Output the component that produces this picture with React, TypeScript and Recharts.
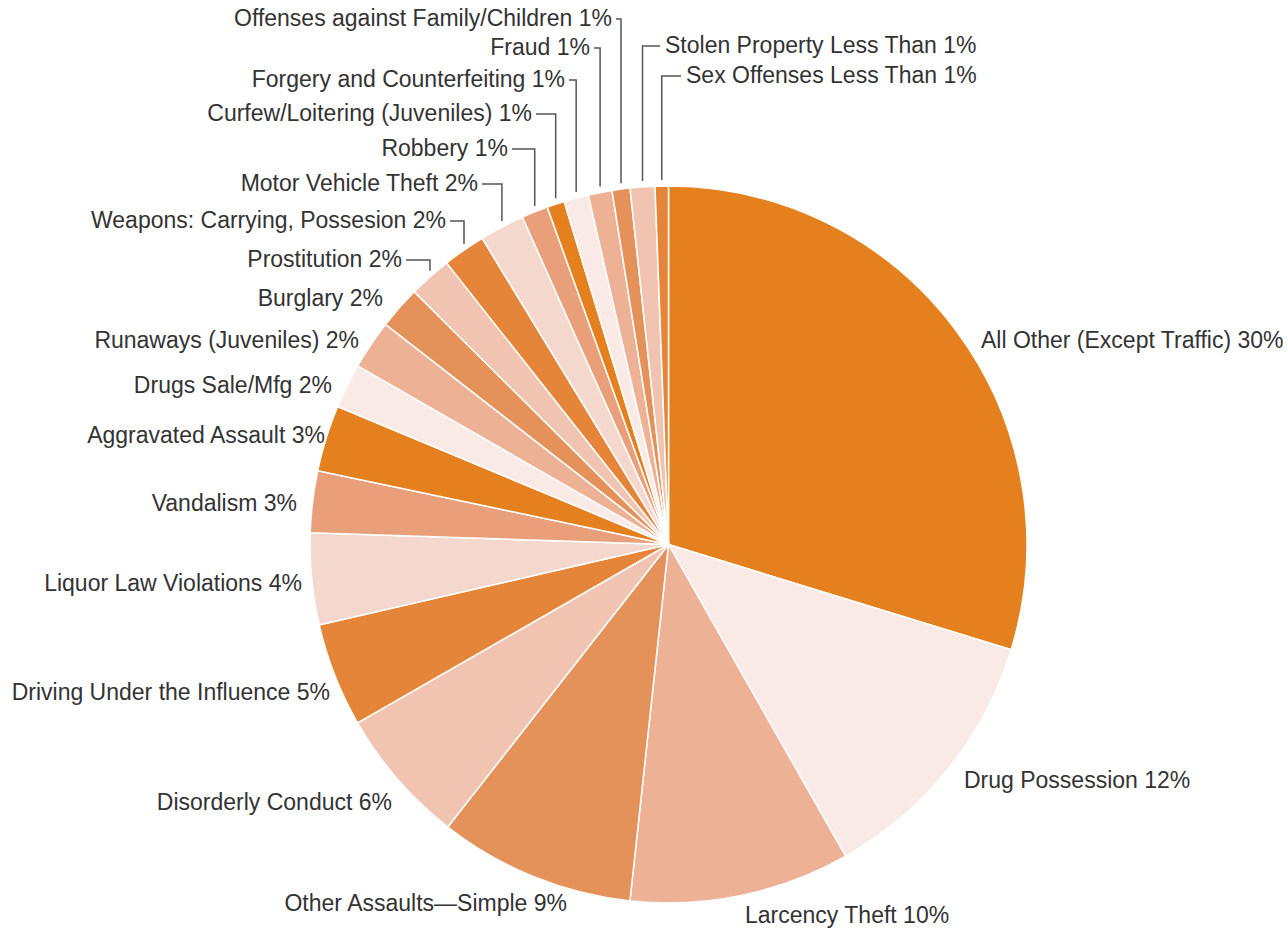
import { PieChart, Pie, Cell } from "recharts";

const categories = [
  "All Other (Except Traffic)",
  "Drug Possession",
  "Larcency Theft",
  "Other Assaults\u2014Simple",
  "Disorderly Conduct",
  "Driving Under the Influence",
  "Liquor Law Violations",
  "Vandalism",
  "Aggravated Assault",
  "Drugs Sale/Mfg",
  "Runaways (Juveniles)",
  "Burglary",
  "Prostitution",
  "Weapons: Carrying, Possesion",
  "Motor Vehicle Theft",
  "Robbery",
  "Curfew/Loitering (Juveniles)",
  "Forgery and Counterfeiting",
  "Fraud",
  "Offenses against Family/Children",
  "Stolen Property",
  "Sex Offenses",
];

// share of arrests
const values = [
  29.74, 12.03, 9.94, 8.84, 6.15, 4.69, 4.12, 2.78, 2.99, 2.01, 2.22, 1.93,
  1.93, 1.92, 2.02, 1.19, 0.79, 1.11, 1.07, 0.81, 1.11, 0.6,
];

const valueLabels = [
  "30%", "12%", "10%", "9%", "6%", "5%", "4%", "3%", "3%", "2%", "2%", "2%",
  "2%", "2%", "2%", "1%", "1%", "1%", "1%", "1%", "Less Than 1%", "Less Than 1%",
];

const palette = [
  "#E5801F", "#F9EAE5", "#EDB296", "#E5925A",
  "#F0C4B0", "#E5853A", "#F5D8CD", "#E9A07A",
];

const data = categories.map((name, i) => ({
  name,
  value: values[i],
  tag: valueLabels[i],
}));

// label placement relative to the pie centre: [dx, baseline dy, anchor, leader]
type Spot = [number, number, "start" | "end", boolean];
const spots: Spot[] = [
  [312.5, -196.5, "start", false],
  [295.5, 243.5, "start", false],
  [76.5, 378.5, "start", false],
  [-101.5, 366.5, "end", false],
  [-276.5, 265.5, "end", false],
  [-338.5, 155.5, "end", false],
  [-366.5, 46.5, "end", false],
  [-371.5, -33.5, "end", false],
  [-343.5, -101.5, "end", false],
  [-336.5, -151.5, "end", false],
  [-309.5, -196.5, "end", false],
  [-285.5, -238.5, "end", false],
  [-266.5, -277.5, "end", true],
  [-222.5, -316.5, "end", true],
  [-190.5, -353.5, "end", true],
  [-160.5, -388.5, "end", true],
  [-136.5, -423.5, "end", true],
  [-103.5, -457.5, "end", true],
  [-78.5, -489.5, "end", true],
  [-56.5, -518.5, "end", true],
  [-3.5, -491.5, "start", true],
  [17.5, -461.5, "start", true],
];

const RAD = Math.PI / 180;

const renderLabel = (props: any) => {
  const { cx, cy, midAngle, outerRadius, index, name, payload } = props;
  const [dx, dy, anchor, leader] = spots[index];
  const tx = cx + dx;
  const ty = cy + dy;
  let line = null;
  if (leader) {
    const lx = cx + outerRadius * Math.cos(midAngle * RAD);
    const edgeY = cy - Math.sqrt(outerRadius * outerRadius - (lx - cx) * (lx - cx));
    const ly = ty - 7;
    const sx = anchor === "end" ? tx + 4 : tx - 5;
    line = (
      <polyline
        points={`${sx},${ly} ${lx},${ly} ${lx},${edgeY - 6}`}
        fill="none"
        stroke="#555"
        strokeWidth={1.5}
      />
    );
  }
  return (
    <g key={`lbl-${index}`}>
      {line}
      <text
        x={tx}
        y={ty}
        textAnchor={anchor}
        fill="#333"
        fontSize={23}
        fontFamily="'Liberation Sans', Arial, sans-serif"
      >
        {`${name} ${payload.tag}`}
      </text>
    </g>
  );
};

export default function App() {
  return (
    <div
      style={{
        position: "absolute",
        left: 0,
        top: 0,
        width: 1288,
        height: 934,
        background: "#fff",
      }}
    >
      <PieChart
        width={1288}
        height={934}
        margin={{ top: 0, right: 0, bottom: 0, left: 0 }}
      >
        <Pie
          data={data}
          dataKey="value"
          nameKey="name"
          cx={668.5}
          cy={544.5}
          outerRadius={358.5}
          startAngle={90}
          endAngle={-270}
          stroke="#fff"
          strokeWidth={1.5}
          label={renderLabel}
          labelLine={false}
          isAnimationActive={false}
        >
          {data.map((d, i) => (
            <Cell key={d.name} fill={palette[i % palette.length]} />
          ))}
        </Pie>
      </PieChart>
    </div>
  );
}
